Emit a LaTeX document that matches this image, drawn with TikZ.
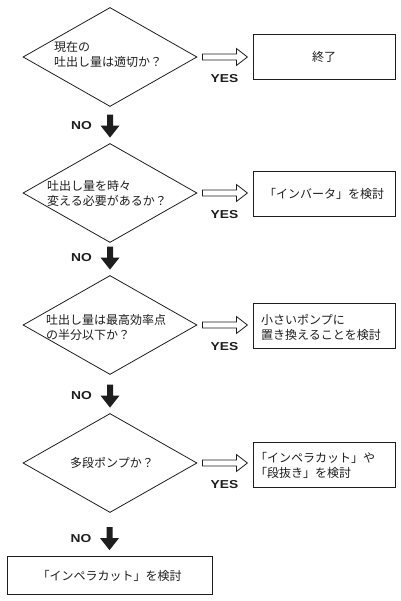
\documentclass[tikz,border=0pt]{standalone}
\usepackage{fontspec}
\newfontfamily\jpfont{Noto Sans CJK JP}
\newfontfamily\yesfont[FakeStretch=1.2]{Liberation Sans}
\usetikzlibrary{shapes.geometric,calc}
\definecolor{ink}{HTML}{1E1E1E}
\begin{document}
\begin{tikzpicture}[x=1pt,y=-1pt,
  dec/.style={draw=ink, shape=diamond, minimum width=174pt, minimum height=99pt, inner sep=0pt, line width=0.8pt},
  res/.style={draw=ink, rectangle, minimum width=142pt, minimum height=45pt, inner sep=0pt, line width=0.8pt},
  lbl/.style={font=\jpfont\fontsize{12}{15}\selectfont, text=ink, align=left, inner sep=0pt},
  yn/.style={font=\yesfont\bfseries\fontsize{11.5}{12}\selectfont, text=ink, inner sep=0pt},
  hollow/.style={draw=ink, line width=0.8pt, fill=white, line join=miter}]
\fill[white] (0,0) rectangle (400,601);
\useasboundingbox (0,0) rectangle (400,601);
% decisions
\node[dec] (d1) at (110,57) {};
\node[dec] (d2) at (110,193) {};
\node[dec] (d3) at (110,325) {};
\node[dec] (d4) at (110,463) {};
\node[lbl, anchor=west] (t1) at (54,54) {現在の\\吐出し量は適切か？};
\node[lbl, anchor=west] (t2) at (47,193) {吐出し量を時々\\変える必要があるか？};
\node[lbl, anchor=west] (t3) at (46,327) {吐出し量は最高効率点\\の半分以下か？};
\node[lbl] (t4) at (112,463) {多段ポンプか？};
% results
\node[res] (b1) at (324,56.5) {};
\node[res] (b2) at (324,193.5) {};
\node[res] (b3) at (324,325.5) {};
\node[res] (b4) at (324,464.5) {};
\node[lbl] (r1) at (b1) {終了};
\node[lbl] (r2) at (b2) {「インバータ」を検討};
\node[lbl, anchor=west] (r3) at (261,327) {小さいポンプに\\置き換えることを検討};
\node[lbl, anchor=west] (r4) at (255,465) {「インペラカット」や\\「段抜き」を検討};
\node[draw=ink, line width=0.8pt, minimum width=205pt, minimum height=38pt, inner sep=0pt] (f) at (109.5,575) {};
\node[lbl] (rf) at (109.5,576) {「インペラカット」を検討};
% YES arrows
\foreach \d/\b in {d1/b1,d2/b2,d3/b3,d4/b4}{
  \begin{scope}[shift={(\d.east)}]
    \draw[hollow] (5,-3) -- (39,-3) -- (39,-8.5) -- (50,0) -- (39,8.5) -- (39,3) -- (5,3) -- cycle;
    \node[yn] (yes\d) at (27,22) {YES};
  \end{scope}
}
% NO arrows
\foreach \s/\t in {d1/d2,d2/d3,d3/d4,d4/f}{
  \begin{scope}[shift={(\t.north)}]
    \fill[ink] (0,-5.5) -- (-9.5,-17.5) -- (-3,-17.5) -- (-3,-28.5) -- (3,-28.5) -- (3,-17.5) -- (9.5,-17.5) -- cycle;
    \node[yn] (no\t) at (-28.5,-17.5) {NO};
  \end{scope}
}
\end{tikzpicture}
\end{document}
